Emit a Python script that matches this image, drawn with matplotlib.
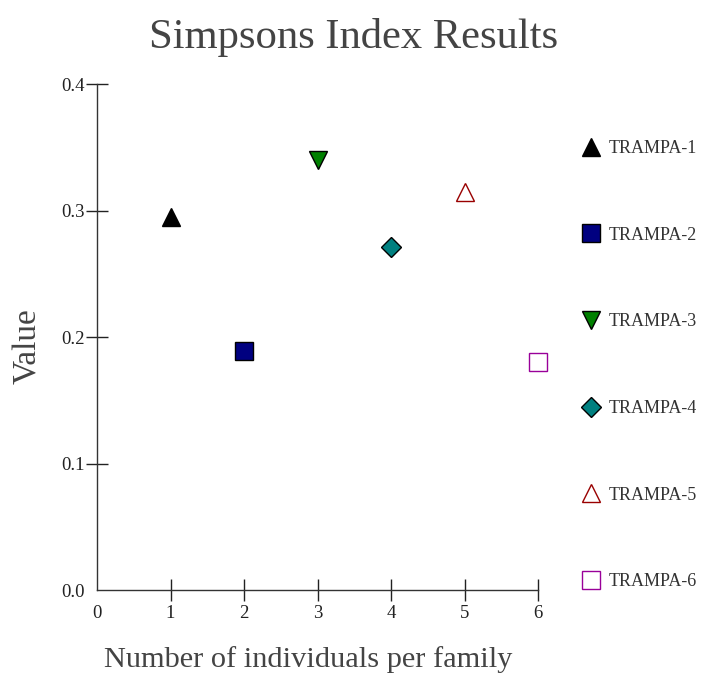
import matplotlib
matplotlib.use("Agg")
import matplotlib.pyplot as plt

# data
names = ["TRAMPA-1", "TRAMPA-2", "TRAMPA-3", "TRAMPA-4", "TRAMPA-5", "TRAMPA-6"]
x_vals = [1, 2, 3, 4, 5, 6]
y_vals = [0.295, 0.189, 0.340, 0.271, 0.315, 0.180]
x_ticks = [0, 1, 2, 3, 4, 5, 6]
y_ticks = [0.0, 0.1, 0.2, 0.3, 0.4]

markers = ["^", "s", "v", "D", "^", "s"]
faces = ["black", "#000080", "#008000", "#008080", "white", "white"]
edges = ["black", "black", "black", "black", "#990000", "#990099"]
sizes = [13.5, 13.5, 13.5, 10, 13.5, 13.5]

plt.rcParams["font.family"] = ["Liberation Serif", "DejaVu Serif"]

fig = plt.figure(figsize=(7.02, 6.75), dpi=100)
ax = fig.add_axes([0.1382, 0.1259, 0.6282, 0.7496])

for xv, yv, n, m, fc, ec, ms in zip(x_vals, y_vals, names, markers, faces, edges, sizes):
    ax.plot(xv, yv, linestyle="none", marker=m, ms=ms, mfc=fc, mec=ec,
            mew=1, label=n, clip_on=False, zorder=3)

ax.set_xlim(0, 6)
ax.set_ylim(0, 0.4)
ax.set_xticks(x_ticks, [str(t) for t in x_ticks])
ax.set_yticks(y_ticks, [f"{t:.1f}" for t in y_ticks])
# no tick marks at the origin
ax.xaxis.get_major_ticks()[0].tick1line.set_visible(False)
ax.yaxis.get_major_ticks()[0].tick1line.set_visible(False)
ax.tick_params(direction="inout", length=16, width=1, labelsize=13.5,
               colors="#222222", pad=3)
ax.tick_params(axis="y", pad=1)

for s in ["top", "right"]:
    ax.spines[s].set_visible(False)
for s in ["left", "bottom"]:
    ax.spines[s].set_color("#333333")
    ax.spines[s].set_linewidth(1)

fig.text(0.503, 0.945, "Simpsons Index Results", ha="center", va="center",
         fontsize=30.7, color="#444444")
fig.text(0.439, 0.0226, "Number of individuals per family", ha="center",
         va="center", fontsize=21.9, color="#444444")
fig.text(0.04, 0.487, "Value", ha="center", va="center", rotation=90,
         fontsize=24, color="#444444")

leg = fig.legend(loc="upper left", bbox_to_anchor=(0.829, 0.7926), frameon=False,
                 labelspacing=3.86, handlelength=1.0, handletextpad=0.5,
                 borderaxespad=0, borderpad=0, fontsize=13,
                 labelcolor="#333333", numpoints=1)

fig.savefig("out.png", dpi=100)
